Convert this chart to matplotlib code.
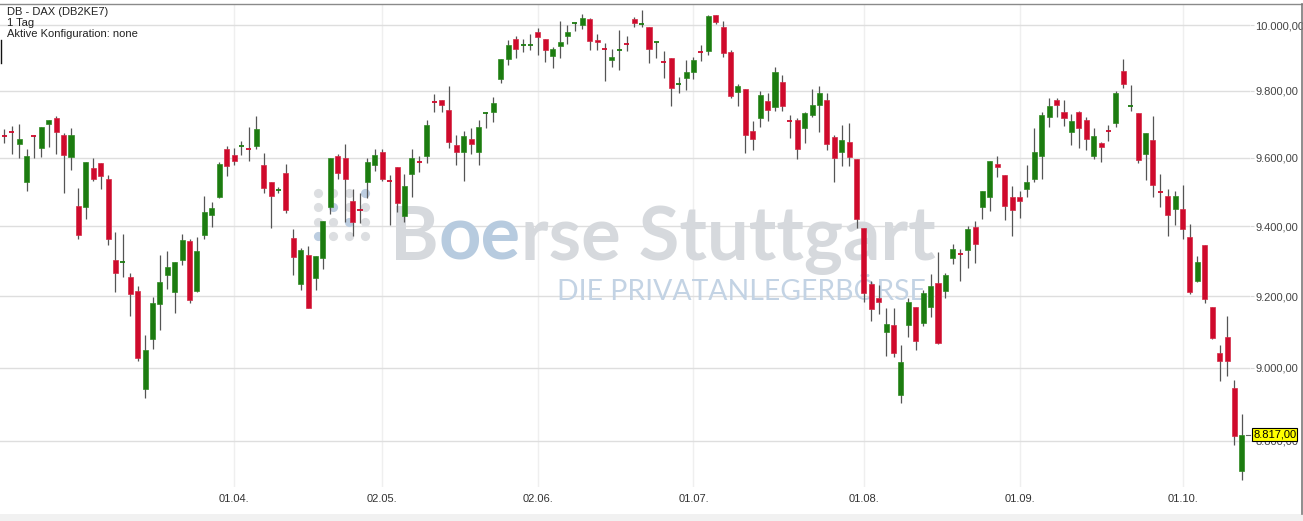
import matplotlib
matplotlib.use("Agg")
import matplotlib.pyplot as plt
from matplotlib.ticker import FixedLocator, NullLocator, FixedFormatter
import matplotlib.transforms as mtransforms

# ---------------- data (daily candles) ----------------
opens = [9665, 9678, 9640, 9529, 9665, 9628, 9700, 9717, 9667, 9602,
         9458, 9456, 9569, 9584, 9538, 9304, 9295, 9256, 9215, 8942,
         9080, 9177, 9260, 9213, 9302, 9357, 9215, 9376, 9434, 9485,
         9627, 9607, 9633, 9628, 9636, 9579, 9530, 9504, 9555, 9365,
         9236, 9317, 9251, 9309, 9456, 9604, 9600, 9473, 9448, 9529,
         9578, 9617, 9532, 9572, 9429, 9552, 9588, 9606, 9768, 9773,
         9742, 9639, 9618, 9656, 9616, 9731, 9737, 9835, 9895, 9958,
         9939, 9939, 9980, 9958, 9905, 9937, 9967, 10004, 10000, 10020,
         9955, 9928, 9893, 9921, 9943, 10018, 10002, 9995, 9947, 9889,
         9900, 9819, 9838, 9858, 9919, 9920, 10030, 9993, 9918, 9797,
         9805, 9680, 9718, 9768, 9750, 9827, 9709, 9712, 9689, 9728,
         9758, 9772, 9662, 9616, 9646, 9597, 9395, 9234, 9196, 9099,
         9118, 8924, 9120, 9169, 9124, 9169, 9237, 9214, 9309, 9320,
         9331, 9397, 9456, 9484, 9583, 9548, 9485, 9485, 9507, 9539,
         9606, 9722, 9772, 9735, 9677, 9737, 9712, 9604, 9644, 9680,
         9702, 9860, 9754, 9732, 9612, 9652, 9502, 9489, 9450, 9450,
         9369, 9244, 9347, 9169, 9040, 9085, 8943, 8718]
highs = [9684, 9695, 9699, 9625, 9669, 9692, 9713, 9723, 9673, 9688,
         9512, 9587, 9598, 9584, 9548, 9383, 9379, 9267, 9229, 9092,
         9198, 9316, 9328, 9296, 9379, 9362, 9369, 9488, 9471, 9587,
         9636, 9630, 9651, 9692, 9723, 9614, 9530, 9515, 9583, 9392,
         9337, 9344, 9315, 9416, 9600, 9611, 9642, 9507, 9497, 9599,
         9625, 9627, 9550, 9572, 9553, 9625, 9604, 9712, 9790, 9773,
         9815, 9669, 9680, 9688, 9712, 9737, 9782, 9895, 9953, 9965,
         9957, 9972, 9990, 9958, 9932, 10013, 10000, 10010, 10033, 10023,
         9972, 9945, 9927, 9985, 9965, 10025, 10047, 9995, 9949, 9920,
         9900, 9840, 9893, 9903, 9940, 10030, 10030, 10013, 9922, 9820,
         9805, 9710, 9798, 9792, 9873, 9847, 9727, 9718, 9737, 9805,
         9813, 9793, 9669, 9696, 9702, 9597, 9395, 9243, 9233, 9166,
         9166, 9062, 9195, 9169, 9217, 9263, 9326, 9266, 9350, 9335,
         9402, 9415, 9502, 9591, 9604, 9548, 9518, 9502, 9580, 9687,
         9735, 9778, 9778, 9772, 9730, 9740, 9720, 9688, 9647, 9696,
         9800, 9895, 9818, 9732, 9672, 9723, 9551, 9507, 9502, 9521,
         9408, 9315, 9347, 9169, 9064, 9143, 8966, 8873]
lows = [9644, 9612, 9599, 9502, 9599, 9601, 9631, 9612, 9497, 9563,
        9363, 9421, 9531, 9507, 9345, 9213, 9256, 9143, 9020, 8917,
        9053, 9104, 9221, 9152, 9288, 9180, 9213, 9362, 9398, 9483,
        9546, 9578, 9607, 9592, 9627, 9497, 9395, 9496, 9439, 9260,
        9217, 9166, 9219, 9277, 9437, 9539, 9412, 9371, 9410, 9483,
        9560, 9531, 9405, 9441, 9412, 9485, 9557, 9586, 9735, 9735,
        9629, 9578, 9533, 9612, 9580, 9688, 9705, 9823, 9878, 9898,
        9918, 9923, 9908, 9888, 9868, 9898, 9942, 9983, 9987, 9922,
        9923, 9830, 9872, 9862, 9920, 9993, 9995, 9885, 9900, 9838,
        9753, 9793, 9803, 9835, 9890, 9907, 10003, 9903, 9777, 9753,
        9614, 9622, 9691, 9710, 9740, 9740, 9659, 9596, 9644, 9720,
        9677, 9622, 9528, 9575, 9575, 9395, 9184, 9129, 9150, 9032,
        9030, 8904, 9086, 9048, 9117, 9141, 9065, 9195, 9291, 9244,
        9280, 9294, 9421, 9444, 9544, 9417, 9371, 9424, 9484, 9528,
        9539, 9691, 9722, 9695, 9639, 9629, 9624, 9597, 9589, 9649,
        9690, 9807, 9740, 9584, 9534, 9484, 9456, 9371, 9405, 9362,
        9206, 9241, 9182, 9080, 8963, 8977, 8789, 8694]
closes = [9663, 9676, 9656, 9604, 9663, 9692, 9713, 9677, 9607, 9669,
          9374, 9587, 9538, 9546, 9362, 9267, 9297, 9205, 9028, 9049,
          9182, 9240, 9282, 9296, 9360, 9189, 9328, 9442, 9453, 9583,
          9575, 9592, 9635, 9626, 9686, 9510, 9487, 9506, 9446, 9311,
          9331, 9167, 9315, 9416, 9600, 9555, 9539, 9413, 9446, 9587,
          9607, 9539, 9530, 9468, 9518, 9600, 9586, 9698, 9766, 9757,
          9646, 9616, 9666, 9642, 9692, 9733, 9762, 9895, 9938, 9928,
          9941, 9941, 9963, 9923, 9925, 9948, 9980, 10006, 10023, 9950,
          9947, 9926, 9903, 9923, 9941, 10005, 10004, 9927, 9949, 9887,
          9807, 9821, 9857, 9892, 9917, 10028, 10008, 9915, 9783, 9813,
          9667, 9655, 9787, 9743, 9857, 9753, 9707, 9626, 9732, 9758,
          9793, 9642, 9599, 9652, 9602, 9422, 9208, 9163, 9184, 9122,
          9041, 9016, 9184, 9074, 9210, 9229, 9069, 9260, 9335, 9318,
          9393, 9349, 9502, 9591, 9572, 9460, 9446, 9473, 9528, 9617,
          9727, 9755, 9757, 9718, 9710, 9687, 9656, 9664, 9632, 9678,
          9792, 9820, 9756, 9594, 9672, 9519, 9500, 9434, 9489, 9392,
          9211, 9296, 9192, 9083, 9018, 9018, 8812, 8817]

date_labels = ["01.04.", "02.05.", "02.06.", "01.07.", "01.08.", "01.09.", "01.10."]
date_positions = [31, 51, 72, 93, 116, 137, 159]
price_ticks = [8800, 9000, 9200, 9400, 9600, 9800, 10000]
last_price = 8817.0
header_lines = ["DB - DAX (DB2KE7)", "1 Tag", "Aktive Konfiguration: none"]


def de_fmt(v):
    s = f"{v:,.2f}"
    return s.replace(",", "X").replace(".", ",").replace("X", ".")


# ---------------- figure / layout ----------------
W, H = 1303, 521
plt.rcParams["font.family"] = ["Liberation Sans", "DejaVu Sans"]
fig = plt.figure(figsize=(W / 100, H / 100), dpi=100)
fig.patch.set_facecolor("white")

ax_left, ax_right, ax_top, ax_bot = 0, 1250, 5, 487
ax = fig.add_axes([ax_left / W, 1 - ax_bot / H, (ax_right - ax_left) / W, (ax_bot - ax_top) / H])
ax.set_facecolor("white")
ax.set_yscale("log")
ax.set_ylim(8676, 10061.7)
ax.set_xlim(-0.58, 168.1)
for sp in ax.spines.values():
    sp.set_visible(False)

ax.yaxis.set_major_locator(FixedLocator(price_ticks))
ax.yaxis.set_major_formatter(FixedFormatter([de_fmt(v) for v in price_ticks]))
ax.yaxis.set_minor_locator(NullLocator())
ax.yaxis.tick_right()
ax.tick_params(axis="y", which="major", length=3, width=0.8, color="#d9d9d9",
               pad=1, labelsize=8, labelcolor="#444444")
ax.set_xticks(date_positions)
ax.set_xticklabels(date_labels)
ax.xaxis.set_minor_locator(NullLocator())
ax.tick_params(axis="x", length=0, pad=5, labelsize=8, labelcolor="#333333")

ax.grid(axis="y", color="#dedede", linewidth=1.0, zorder=0)
ax.grid(axis="x", color="#efefef", linewidth=1.0, zorder=0)
ax.set_axisbelow(True)

# ---------------- watermark ----------------
px = lambda x: x / W
py = lambda y: 1 - y / H
gray_wm = "#d6d9dd"
blue_wm = "#b7cbdf"

fig.canvas.draw()
renderer = fig.canvas.get_renderer()
pieces = [("B", gray_wm), ("oe", blue_wm), ("rse Stuttgart", gray_wm)]
fs = 40
tmp = [ax.text(0, 0, s, fontsize=fs, family="Lato", fontweight="bold",
               transform=fig.transFigure) for s, _ in pieces]
widths = [t.get_window_extent(renderer=renderer).width for t in tmp]
for t in tmp:
    t.remove()
scale = 545 / sum(widths)
fs2 = fs * scale
xcur = 390
for (s, c), w in zip(pieces, widths):
    ax.text(px(xcur), py(260), s, fontsize=fs2, family="Lato", fontweight="bold",
            color=c, ha="left", va="baseline", transform=fig.transFigure, zorder=1)
    xcur += w * scale

t2 = ax.text(0, 0, "DIE PRIVATANLEGERBÖRSE", fontsize=20, family="Lato",
             transform=fig.transFigure)
w2 = t2.get_window_extent(renderer=renderer).width
t2.remove()
ax.text(px(557), py(300), "DIE PRIVATANLEGERBÖRSE", fontsize=20 * 368 / w2,
        family="Lato", color="#c3d3e4", ha="left", va="baseline",
        transform=fig.transFigure, zorder=1)

dot_x = [318, 333, 349, 365]
dot_y = [193, 207, 222, 236]
blue_dots = {(0, 3), (1, 1), (2, 2), (3, 0)}
for r, yy in enumerate(dot_y):
    for cc, xx in enumerate(dot_x):
        col = "#bccde0" if (r, cc) in blue_dots else "#dcdee1"
        ax.plot([px(xx)], [py(yy)], marker="o", markersize=6.6, color=col,
                markeredgewidth=0, transform=fig.transFigure, zorder=1)

# ---------------- candles ----------------
green = "#1c7c10"
red = "#cf0a2c"
green_edge = "#2f8a22"
red_edge = "#d42a45"
xs = list(range(len(opens)))
ax.vlines(xs, lows, highs, color="#555555", linewidth=0.9, zorder=3)
bw = 0.68
for i, (o, h, l, c) in enumerate(zip(opens, highs, lows, closes)):
    up = c >= o
    col = green if up else red
    ecol = green_edge if up else red_edge
    if abs(c - o) < 4:
        ax.hlines((o + c) / 2, i - bw / 2, i + bw / 2, color=col, linewidth=1.3, zorder=4)
    else:
        ax.bar(i, abs(c - o), bottom=min(o, c), width=bw, color=col,
               edgecolor=ecol, linewidth=0.5, zorder=4)

# ---------------- last price marker ----------------
trans = mtransforms.blended_transform_factory(ax.transAxes, ax.transData)
ax.plot([1246 / 1250, 1250 / 1250], [last_price, last_price], color="#666666",
        linewidth=0.8, transform=trans, clip_on=False, zorder=5)
ax.text(1253 / 1250, last_price, de_fmt(last_price), transform=trans, fontsize=8,
        color="black", ha="left", va="center", zorder=6, clip_on=False,
        bbox=dict(boxstyle="square,pad=0.12", facecolor="#ffff00",
                  edgecolor="black", linewidth=0.8))

# ---------------- header texts ----------------
for k, s in enumerate(header_lines):
    fig.text(px(7), py(12 + 11 * k), s, fontsize=8, color="#222222",
             ha="left", va="center")

# ---------------- frame decorations ----------------
fig.add_artist(plt.Line2D([0, 1], [py(4), py(4)], color="#8a8a8a", linewidth=1.0,
                          transform=fig.transFigure))
fig.add_artist(plt.Line2D([px(1301.5), px(1301.5)], [py(4), py(514)], color="#7a7a7a",
                          linewidth=1.2, transform=fig.transFigure))
fig.add_artist(plt.Line2D([px(0.5), px(0.5)], [py(40), py(63)], color="#111111",
                          linewidth=1.0, transform=fig.transFigure))
fig.add_artist(plt.Rectangle((0, 0), 1, 1 - 514 / H, facecolor="#f1f1f1",
                             edgecolor="none", transform=fig.transFigure))

fig.savefig("out.png", dpi=100, facecolor="white")
